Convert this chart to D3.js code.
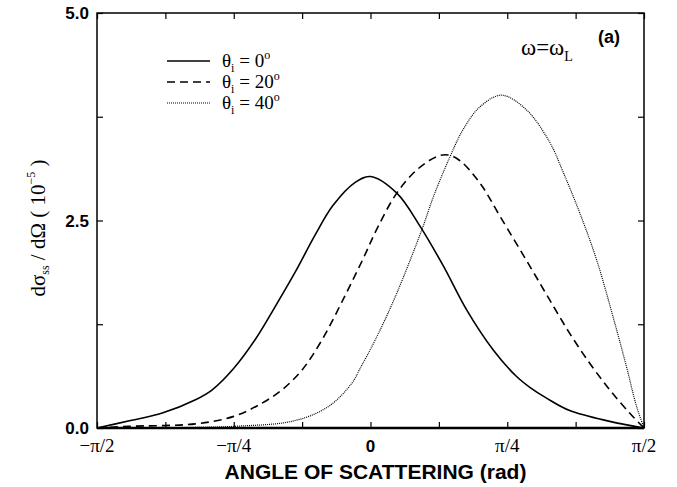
<!DOCTYPE html>
<html>
<head>
<meta charset="utf-8">
<script src="https://cdn.jsdelivr.net/npm/d3@7"></script>
<style>
  body { margin: 0; background: #fff; }
  svg { display: block; }
</style>
</head>
<body>
<svg id="chart"></svg>
<script>
// angle (rad), cross section (10^-5)
const angle0 = [-1.571, -1.378, -1.196, -1.005, -0.909, -0.785, -0.661, -0.565, -0.432, -0.317, -0.216, -0.088, 0, 0.151, 0.285, 0.419, 0.553, 0.705, 0.839, 0.915, 1.011, 1.144, 1.374, 1.571];
const sigma0 = [0, 0.09, 0.18, 0.34, 0.46, 0.72, 1.07, 1.40, 1.88, 2.33, 2.68, 2.96, 3.03, 2.83, 2.43, 1.95, 1.42, 0.94, 0.62, 0.49, 0.36, 0.21, 0.08, 0];

const angle20 = [-1.571, -1.388, -1.005, -0.785, -0.623, -0.508, -0.393, -0.279, -0.145, -0.040, 0.037, 0.151, 0.266, 0.381, 0.445, 0.514, 0.629, 0.744, 0.915, 1.030, 1.144, 1.259, 1.374, 1.488, 1.571];
const sigma20 = [0, 0.02, 0.05, 0.14, 0.30, 0.46, 0.70, 1.06, 1.60, 2.05, 2.40, 2.83, 3.11, 3.27, 3.29, 3.22, 2.95, 2.55, 1.95, 1.54, 1.14, 0.78, 0.46, 0.18, 0];

const angle40 = [-1.571, -0.785, -0.432, -0.241, -0.107, -0.059, 0.027, 0.142, 0.295, 0.362, 0.457, 0.533, 0.629, 0.753, 0.897, 1.030, 1.107, 1.202, 1.298, 1.393, 1.470, 1.528, 1.571];
const sigma40 = [0, 0.02, 0.09, 0.26, 0.54, 0.72, 1.06, 1.58, 2.39, 2.79, 3.27, 3.60, 3.87, 4.01, 3.83, 3.44, 3.08, 2.59, 2.03, 1.34, 0.74, 0.26, 0];

const legendLabels = ["0", "20", "40"];
const xTickLabels = ["\u2212\u03c0/2", "\u2212\u03c0/4", "0", "\u03c0/4", "\u03c0/2"];
const yTickLabels = ["0.0", "2.5", "5.0"];

const series = [
  { angle: angle0, sigma: sigma0, dash: null },
  { angle: angle20, sigma: sigma20, dash: "8,5" },
  { angle: angle40, sigma: sigma40, dash: "1,1" }
];

const W = 677, H = 487;
const margin = { top: 13, right: 33, bottom: 59, left: 97 };
const width = W - margin.left - margin.right,
    height = H - margin.top - margin.bottom;

const svg = d3.select("#chart").attr("width", W).attr("height", H);
const g = svg.append("g").attr("transform", `translate(${margin.left},${margin.top})`);

const x = d3.scaleLinear().domain([-Math.PI / 2, Math.PI / 2]).range([0, width]);
const y = d3.scaleLinear().domain([0, 5]).range([height, 0]);

const xTicks = d3.range(-4, 5).map(k => k * Math.PI / 8);
const yTicks = [0, 1.25, 2.5, 3.75, 5];

// ticks (inward, all four sides)
g.append("g").attr("transform", `translate(0,${height})`)
    .call(d3.axisBottom(x).tickValues(xTicks).tickSize(-6).tickFormat(""))
    .call(a => a.select(".domain").remove());
g.append("g")
    .call(d3.axisTop(x).tickValues(xTicks).tickSize(-6).tickFormat(""))
    .call(a => a.select(".domain").remove());
g.append("g")
    .call(d3.axisLeft(y).tickValues(yTicks).tickSize(-6).tickFormat(""))
    .call(a => a.select(".domain").remove());
g.append("g").attr("transform", `translate(${width},0)`)
    .call(d3.axisRight(y).tickValues(yTicks).tickSize(-6).tickFormat(""))
    .call(a => a.select(".domain").remove());
g.selectAll(".tick line").attr("stroke", "#000").attr("stroke-width", 1.2);

// frame
g.append("rect")
    .attr("width", width).attr("height", height)
    .attr("fill", "none").attr("stroke", "#000").attr("stroke-width", 1.5);
g.append("line")
    .attr("x1", 0).attr("x2", width).attr("y1", height).attr("y2", height)
    .attr("stroke", "#000").attr("stroke-width", 2.4);

// curves
const line = d3.line()
    .x(d => x(d[0]))
    .y(d => Math.min(y(d[1]), height))
    .curve(d3.curveCatmullRom.alpha(0.5));

series.forEach(s => {
    g.append("path")
        .datum(s.angle.map((a, i) => [a, s.sigma[i]]))
        .attr("fill", "none")
        .attr("stroke", "#000")
        .attr("stroke-width", s.dash === "1,1" ? 1.2 : 1.6)
        .attr("stroke-dasharray", s.dash)
        .attr("d", line);
});

// tick labels
const xLabelPos = [-Math.PI / 2, -Math.PI / 4, 0, Math.PI / 4, Math.PI / 2];
g.selectAll(".xlab")
    .data(xLabelPos)
    .enter().append("text")
    .attr("x", d => x(d))
    .attr("y", height + 24)
    .attr("text-anchor", "middle")
    .attr("font-family", (d, i) => i === 2 ? "Liberation Sans, Arial, sans-serif" : "Liberation Serif, Times New Roman, serif")
    .attr("font-weight", (d, i) => i === 2 ? "bold" : "normal")
    .attr("font-size", (d, i) => i === 2 ? 17 : 19)
    .text((d, i) => xTickLabels[i]);

g.selectAll(".ylab")
    .data([0, 2.5, 5])
    .enter().append("text")
    .attr("x", -8)
    .attr("y", d => y(d) + 6)
    .attr("text-anchor", "end")
    .attr("font-family", "Liberation Sans, Arial, sans-serif")
    .attr("font-weight", "bold")
    .attr("font-size", 17)
    .text((d, i) => yTickLabels[i]);

// axis titles
svg.append("text")
    .attr("x", margin.left + width / 2 + 5)
    .attr("y", 479)
    .attr("text-anchor", "middle")
    .attr("font-family", "Liberation Sans, Arial, sans-serif")
    .attr("font-weight", "bold")
    .attr("font-size", 21)
    .text("ANGLE OF SCATTERING (rad)");

const yt = svg.append("text")
    .attr("transform", "translate(45,228) rotate(-90)")
    .attr("text-anchor", "middle")
    .attr("font-family", "Liberation Serif, Times New Roman, serif")
    .attr("font-size", 21);
yt.append("tspan").text("d\u03c3");
yt.append("tspan").attr("font-size", 12).attr("dy", 4).text("ss");
yt.append("tspan").attr("dy", -4).text(" / d\u03a9 ( 10");
yt.append("tspan").attr("font-size", 12).attr("dy", -10).text("\u22125");
yt.append("tspan").attr("dy", 10).text(" )");

// legend
const legend = g.append("g").attr("transform", "translate(70,48)");
series.forEach((s, i) => {
    const row = legend.append("g").attr("transform", `translate(0,${i * 21})`);
    row.append("line")
        .attr("x1", 0).attr("x2", 43)
        .attr("stroke", "#000")
        .attr("stroke-width", s.dash === "1,1" ? 1.2 : 1.5)
        .attr("stroke-dasharray", s.dash);
    const t = row.append("text")
        .attr("x", 55).attr("y", 6)
        .attr("font-family", "Liberation Serif, Times New Roman, serif")
        .attr("font-size", 19);
    t.append("tspan").text("\u03b8");
    t.append("tspan").attr("font-size", 12).attr("dy", 5).text("i");
    t.append("tspan").attr("dy", -5).text(" = " + legendLabels[i]);
    t.append("tspan").attr("font-size", 12).attr("dy", -8).text("o");
});

// annotations
svg.append("text")
    .attr("x", 521).attr("y", 55)
    .attr("font-family", "Liberation Serif, Times New Roman, serif")
    .attr("font-size", 23)
    .call(t => {
        t.append("tspan").text("\u03c9=\u03c9");
        t.append("tspan").attr("font-size", 14).attr("dy", 6).text("L");
    });

svg.append("text")
    .attr("x", 598).attr("y", 43)
    .attr("font-family", "Liberation Sans, Arial, sans-serif")
    .attr("font-weight", "bold")
    .attr("font-size", 18)
    .text("(a)");
</script>
</body>
</html>
